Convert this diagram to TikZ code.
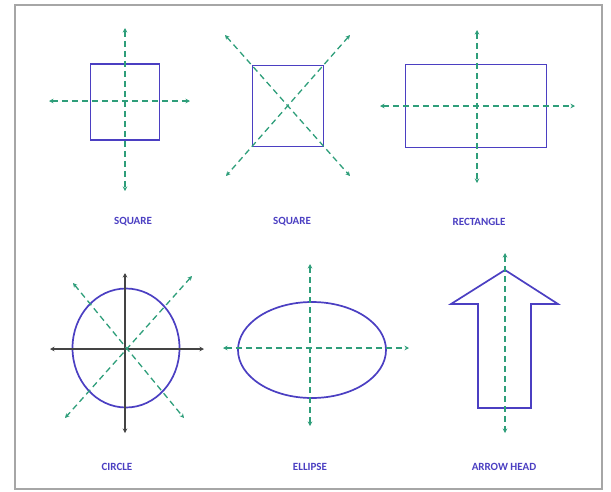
\documentclass[tikz,border=0pt]{standalone}
\usepackage{fontspec}
\setmainfont{Carlito}
\usepackage{xcolor}
\usetikzlibrary{arrows.meta,shapes.geometric}

\definecolor{formblue}{HTML}{4B3FC2}
\definecolor{axisgreen}{HTML}{2E9E7A}
\definecolor{axisgray}{HTML}{444444}

\begin{document}
\begin{tikzpicture}[x=1pt,y=-1pt,
  forme/.style={draw=formblue, line width=1.7pt, inner sep=0pt},
  axe/.style={draw=axisgreen, line width=1.3pt, dash pattern=on 6pt off 4pt,
    {Stealth[length=4.5pt,width=4.5pt]}-{Stealth[length=4.5pt,width=4.5pt]}},
  axenoir/.style={draw=axisgray, line width=1.3pt,
    {Stealth[length=4.5pt,width=4.5pt]}-{Stealth[length=4.5pt,width=4.5pt]}},
  titre/.style={text=formblue, font=\fontsize{11}{13}\selectfont\bfseries}
]
  \useasboundingbox (0,0) rectangle (611,491);
  \draw[gray!70, line width=1.8pt] (15,5) rectangle (602,489);

  % --- Carre (axes droits) ---
  \node[forme, minimum width=69pt, minimum height=76pt] (carreA) at (125,102) {};
  \coordinate (cAn) at (125,28);  \coordinate (cAs) at (125,191);
  \coordinate (cAw) at (49,101);  \coordinate (cAe) at (190,101);
  \draw[axe] (cAn) -- (cAs);
  \draw[axe] (cAw) -- (cAe);
  \node[titre] (lcarreA) at (133,222) {SQUARE};

  % --- Carre (diagonales) ---
  \node[forme, minimum width=71pt, minimum height=81pt] (carreB) at (288,106) {};
  \coordinate (cBnw) at (225,35);  \coordinate (cBse) at (350,176);
  \coordinate (cBne) at (350,35);  \coordinate (cBsw) at (226,176);
  \draw[axe] (cBnw) -- (cBse);
  \draw[axe] (cBne) -- (cBsw);
  \node[titre] (lcarreB) at (292,222) {SQUARE};

  % --- Rectangle ---
  \node[forme, minimum width=141pt, minimum height=83pt] (rect) at (476,106) {};
  \coordinate (rn) at (477,30);  \coordinate (rs) at (477,183);
  \coordinate (rw) at (380,106); \coordinate (re) at (575,106);
  \draw[axe] (rn) -- (rs);
  \draw[axe] (rw) -- (re);
  \node[titre] (lrect) at (479,222) {RECTANGLE};

  % --- Cercle ---
  \node[forme, ellipse, minimum width=107pt, minimum height=119pt] (cercle) at (126,348) {};
  \coordinate (ccn) at (125,273); \coordinate (ccs) at (125,433);
  \coordinate (ccw) at (50,349);  \coordinate (cce) at (204,349);
  \draw[axenoir] (ccn) -- (ccs);
  \draw[axenoir] (ccw) -- (cce);
  \coordinate (ccnw) at (73,283);  \coordinate (ccse) at (184,418);
  \coordinate (ccne) at (192,276); \coordinate (ccsw) at (65,418);
  \draw[axe] (ccnw) -- (ccse);
  \draw[axe] (ccne) -- (ccsw);
  \node[titre] (lcercle) at (117,467) {CIRCLE};

  % --- Ellipse ---
  \node[forme, ellipse, minimum width=148pt, minimum height=96pt] (ell) at (312,350) {};
  \coordinate (en) at (310,264); \coordinate (es) at (310,426);
  \coordinate (ew) at (223,348); \coordinate (ee) at (409,348);
  \draw[axe] (en) -- (es);
  \draw[axe] (ew) -- (ee);
  \node[titre] (lell) at (310,467) {ELLIPSE};

  % --- Fleche ---
  \draw[forme, line join=miter] (505,270) -- (558,304) -- (531,304) -- (531,408)
    -- (478,408) -- (478,304) -- (451,304) -- cycle;
  \coordinate (fn) at (505,253); \coordinate (fs) at (505,433);
  \draw[axe] (fn) -- (fs);
  \node[titre] (lfleche) at (504,467) {ARROW HEAD};
\end{tikzpicture}
\end{document}
